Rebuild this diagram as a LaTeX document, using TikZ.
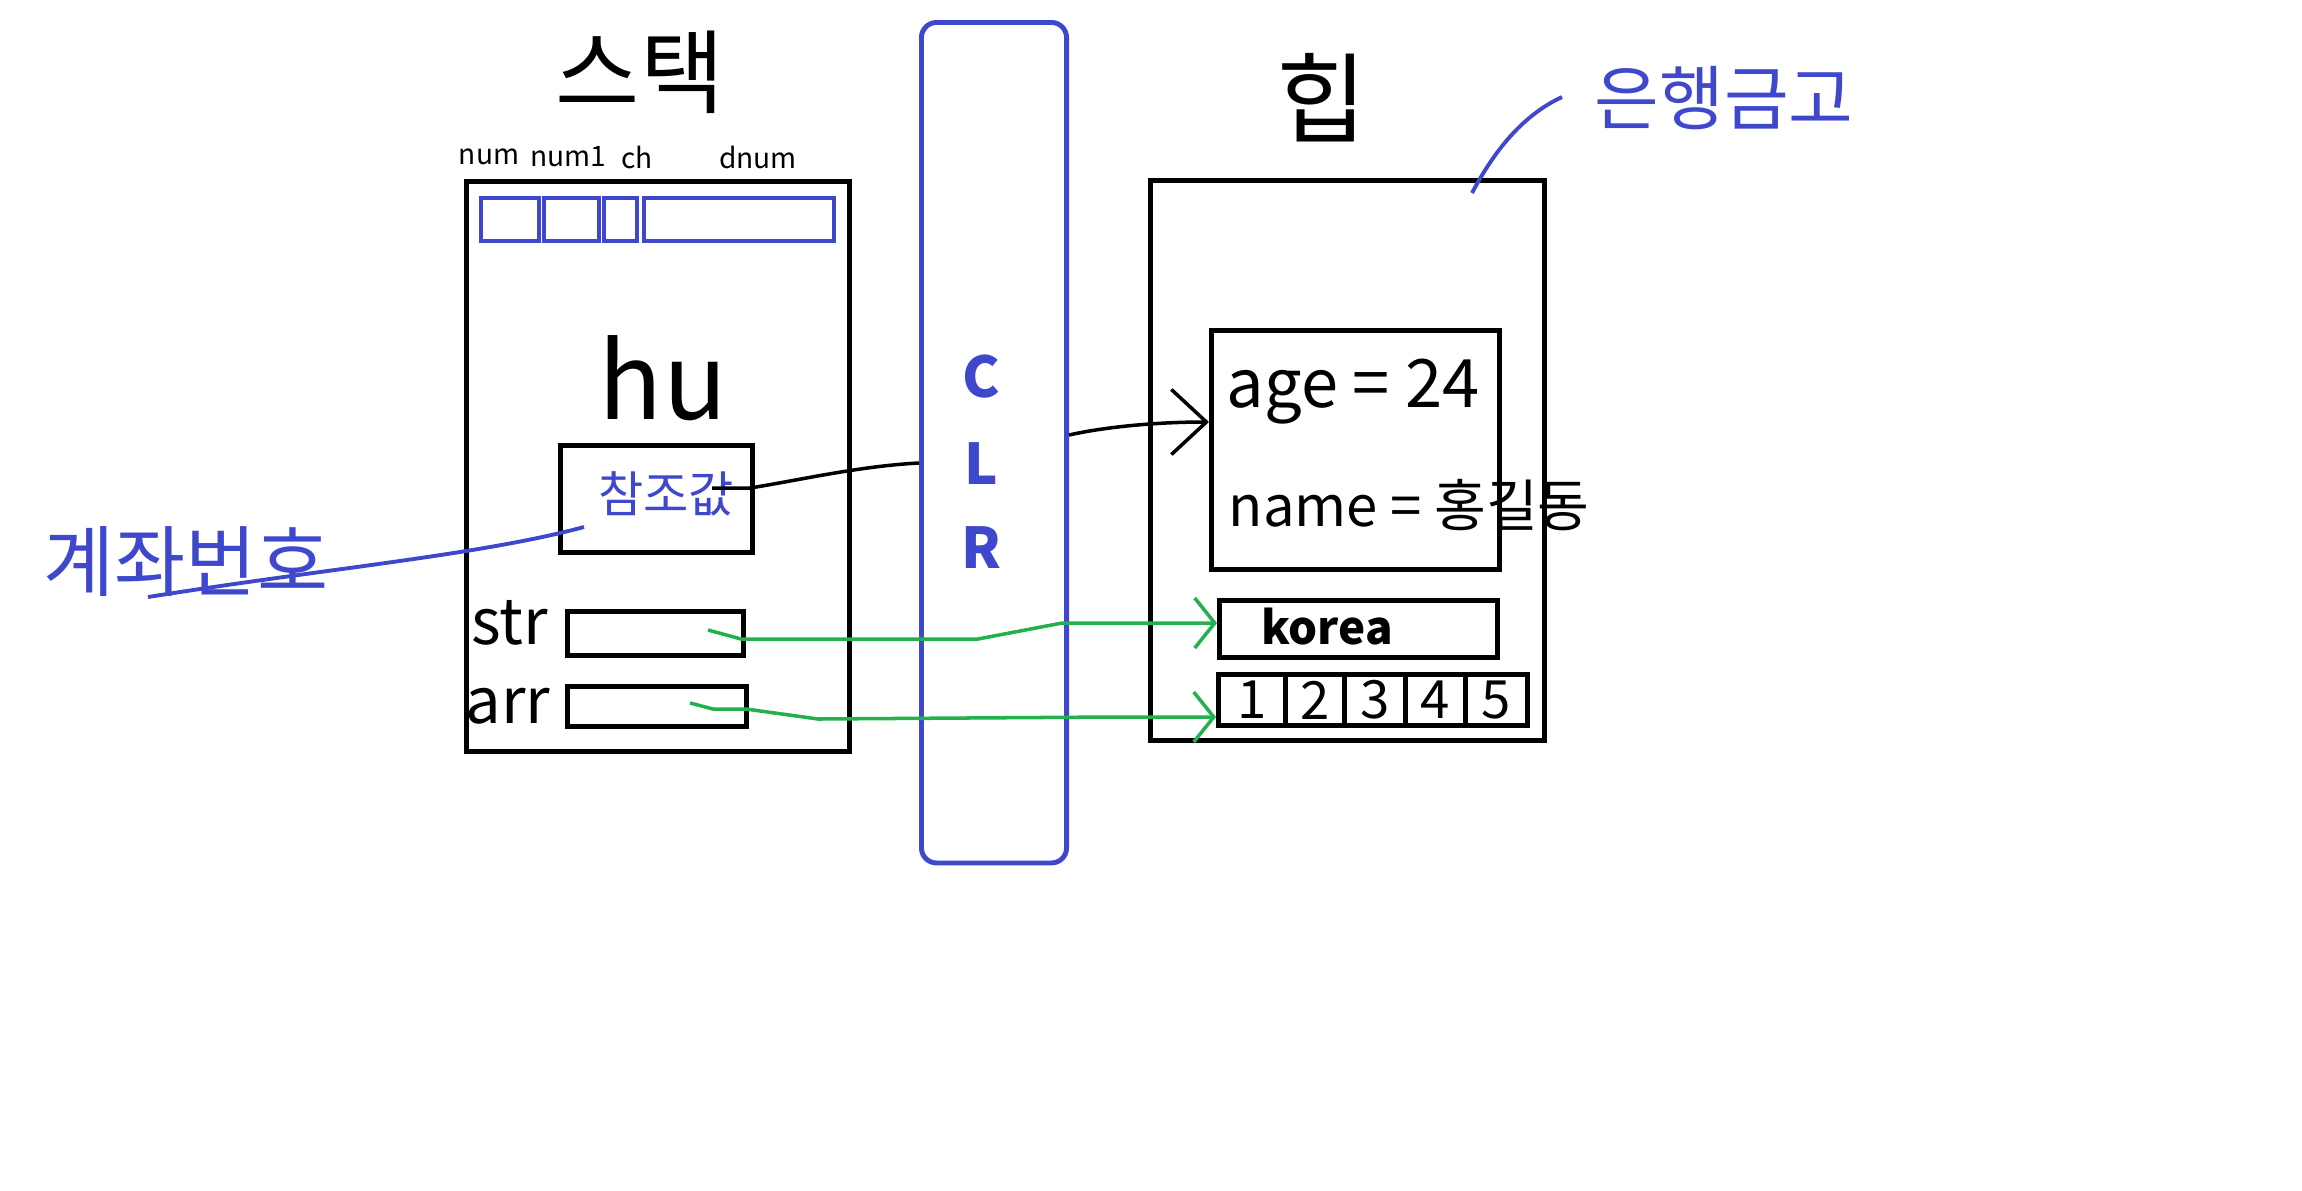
\documentclass[tikz,border=0pt]{standalone}
\usepackage{fontspec}
\setmainfont{Noto Sans CJK KR}
\usetikzlibrary{arrows.meta}

\definecolor{paintblue}{RGB}{63,72,204}
\definecolor{paintgreen}{RGB}{34,177,76}

\tikzset{
  frame/.style={draw=black, line width=1.4pt, inner sep=0pt, anchor=north west},
  cell/.style={draw=paintblue, line width=1.2pt, inner sep=0pt, anchor=north west},
  hand/.style={font=\fontsize{#1}{#1}\selectfont, inner sep=0pt},
  handbold/.style={font=\fontsize{#1}{#1}\selectfont\bfseries, inner sep=0pt},
  ptr/.style={draw=black, line width=1pt, -{Straight Barb[length=3.5mm,width=6.5mm]}},
  refline/.style={draw=paintgreen, line width=1pt, -{Straight Barb[length=2mm,width=5mm]}},
  lead/.style={draw=paintblue, line width=1.1pt},
}

\begin{document}
\begin{tikzpicture}[x=0.01cm, y=-0.01cm]
  \fill[white] (0,0) rectangle (2302,1190);
  \useasboundingbox (0,0) rectangle (2302,1190);

  % stack
  \node[hand=26pt] (stacktitle) at (640,72) {스택};
  \node[hand=8pt] (lblnum) at (489,157) {num};
  \node[hand=8pt] (lblnumone) at (568,157) {num1};
  \node[hand=8pt] (lblch) at (637,157) {ch};
  \node[hand=8pt] (lbldnum) at (758,157) {dnum};

  \node[frame, minimum width=3.83cm, minimum height=5.70cm] (stack) at (464,179) {};
  \node[cell, minimum width=0.58cm, minimum height=0.43cm] (cnum) at (479,196) {};
  \node[cell, minimum width=0.55cm, minimum height=0.43cm] (cnumone) at (542,196) {};
  \node[cell, minimum width=0.33cm, minimum height=0.43cm] (cch) at (602,196) {};
  \node[cell, minimum width=1.90cm, minimum height=0.43cm] (cdnum) at (642,196) {};

  \node[hand=30pt] (hu) at (663,378) {hu};
  \node[frame, minimum width=1.92cm, minimum height=1.07cm] (ref) at (558,443) {};
  \node[hand=14pt, text=paintblue] (refval) at (666,494) {참조값};

  \node[hand=18pt] (strlbl) at (510,623) {str};
  \node[frame, minimum width=1.76cm, minimum height=0.44cm] (strbox) at (565,609) {};
  \node[hand=18pt] (arrlbl) at (508,706) {arr};
  \node[frame, minimum width=1.79cm, minimum height=0.40cm] (arrbox) at (565,684) {};

  \node[hand=22pt, text=paintblue] (acct) at (186,562) {계좌번호};

  % CLR
  \node[draw=paintblue, line width=1.4pt, rounded corners=0.15cm, inner sep=0pt,
        anchor=north west, minimum width=1.45cm, minimum height=8.40cm] (clr) at (919,20) {};
  \node[handbold=16pt, text=paintblue] (clrc) at (981,377) {C};
  \node[handbold=16pt, text=paintblue] (clrl) at (981,464) {L};
  \node[handbold=16pt, text=paintblue] (clrr) at (981,548) {R};

  % heap
  \node[hand=28pt] (heaptitle) at (1322,98) {힙};
  \node[hand=20pt, text=paintblue] (vault) at (1724,98) {은행금고};
  \node[frame, minimum width=3.94cm, minimum height=5.60cm] (heap) at (1148,178) {};
  \node[frame, minimum width=2.88cm, minimum height=2.39cm] (obj) at (1209,328) {};
  \node[hand=19pt, anchor=west] (age) at (1226,392) {age = 24};
  \node[hand=16pt, anchor=west] (name) at (1228,505) {name = 홍길동};
  \node[frame, minimum width=2.78cm, minimum height=0.57cm] (korea) at (1217,598) {};
  \node[handbold=13pt] (koreatxt) at (1327,627) {korea};

  \node[frame, minimum width=0.67cm, minimum height=0.51cm] (aone) at (1216,672) {};
  \node[frame, minimum width=0.59cm, minimum height=0.51cm] (atwo) at (1283,672) {};
  \node[frame, minimum width=0.61cm, minimum height=0.51cm] (athree) at (1342,672) {};
  \node[frame, minimum width=0.60cm, minimum height=0.51cm] (afour) at (1403,672) {};
  \node[frame, minimum width=0.62cm, minimum height=0.51cm] (afive) at (1463,672) {};
  \node[hand=15pt] at (aone.center) {1};
  \node[hand=15pt] at (atwo.center) {2};
  \node[hand=15pt] at (athree.center) {3};
  \node[hand=15pt] at (afour.center) {4};
  \node[hand=15pt] at (afive.center) {5};

  % pointers
  \coordinate (refstart) at (712,488);
  \coordinate (strstart) at (708,630);
  \coordinate (arrstart) at (690,703);
  \coordinate (acctstart) at (584,527);
  \coordinate (acctend) at (148,597);
  \coordinate (heapstart) at (1472,193);
  \coordinate (vaultend) at (1562,97);

  \draw[line width=1pt] (refstart) -- (750,488) .. controls (800,480) and (860,466) .. (clr.west |- 0,463);
  \draw[ptr] (clr.east |- 0,435) .. controls (1100,428) and (1150,422) .. (obj.west |- 0,422);

  \draw[refline] (strstart) -- (741,639) -- (978,639) -- (1062,623) -- (korea.west |- 0,623);
  \draw[refline] (arrstart) -- (713,709) -- (746,709) -- (818,719) -- (1113,717) -- (aone.west |- 0,717);

  \draw[lead] (acctstart) .. controls (480,555) and (330,568) .. (acctend);
  \draw[lead] (heapstart) .. controls (1500,140) and (1530,112) .. (vaultend);
\end{tikzpicture}
\end{document}
